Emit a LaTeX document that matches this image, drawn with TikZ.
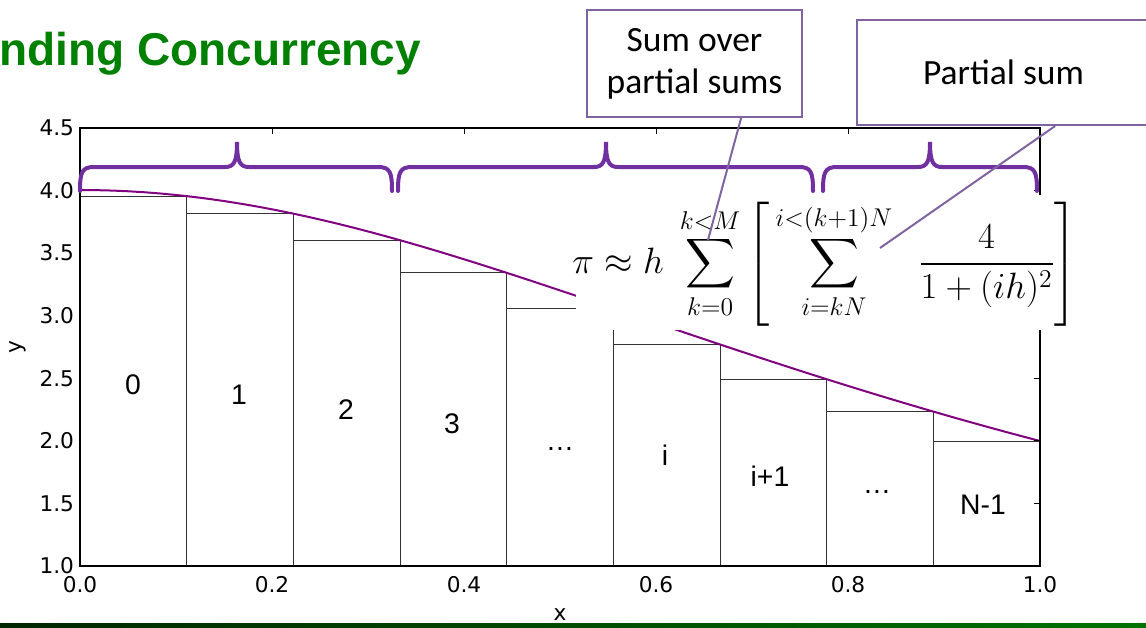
\RequirePackage{fix-cm}
\documentclass[tikz,border=0pt]{standalone}
\usepackage{amsmath}
\usepackage{exscale}
\usepackage{fontspec}
\setmainfont{Liberation Sans}
\newfontfamily\tickfont{DejaVu Sans}
\newfontfamily\notefont{Carlito}
\definecolor{bracepurple}{HTML}{7030A0}
\definecolor{curvepurple}{HTML}{800080}
\definecolor{notepurple}{HTML}{8064A2}
\definecolor{titlegreen}{HTML}{008000}
\tikzset{
	bar/.style={draw=black!80, line width=0.6pt, fill=white},
	barlabel/.style={font=\fontsize{17}{20}\selectfont},
	ticklabel/.style={font=\tickfont\fontsize{13}{15}\selectfont, inner sep=1pt},
	partbrace/.style={draw=bracepurple, line width=2.4pt, line cap=round},
	notebox/.style={draw=notepurple, line width=1.2pt, fill=white, align=center, font=\notefont\fontsize{21.3}{25.2}\selectfont},
	pointer/.style={draw=notepurple, line width=1.2pt},
}
% brace over a group of bars: left end, tip, right end (pixels)
\newcommand{\partbrace}[3]{
	\draw[partbrace] (#1,191) .. controls (#1,172) and (#1+2,167) .. (#1+14,167)
		-- (#2-12,167) .. controls (#2-3,167) and (#2,162) .. (#2,142)
		.. controls (#2,162) and (#2+3,167) .. (#2+12,167)
		-- (#3-14,167) .. controls (#3-2,167) and (#3,172) .. (#3,191);
}
\begin{document}
\begin{tikzpicture}[x=0.6pt, y=-0.6pt]
	\useasboundingbox (0,0) rectangle (1146,627);
	
	% 1. title
	\node[anchor=base west, inner sep=0, text=titlegreen, font=\bfseries\fontsize{27.6}{32}\selectfont] (title) at (-1,65) {nding Concurrency};
	
	% 2. bars (right end points)
	\foreach \i in {0,...,8} {
		\pgfmathsetmacro\xl{80+960*\i/9}
		\pgfmathsetmacro\xr{80+960*(\i+1)/9}
		\pgfmathsetmacro\yt{692-502/(1+((\i+1)/9)^2)}
		\draw[bar] (\xl,566) rectangle (\xr,\yt);
	}
	
	% 3. the curve 4/(1+x^2)
	\draw[curvepurple, line width=1.2pt] plot[domain=0:1, samples=60] ({80+960*\x}, {692-502/(1+\x*\x)});
	
	% 4. axes, ticks and tick labels
	\draw[line width=1pt] (80,128) rectangle (1040,566);
	\foreach \xx in {272,464,656,848}
		\draw[line width=0.6pt] (\xx,128) -- (\xx,134);
	\foreach \v [count=\k] in {1.0,1.5,2.0,2.5,3.0,3.5,4.0,4.5} {
		\pgfmathsetmacro\yy{566-(\v-1)*125.2}
		\draw[line width=0.6pt] (1040,\yy) -- (1034,\yy);
		\node[ticklabel, anchor=east] (ytick\k) at (76,\yy) {\v};
	}
	\foreach \u [count=\k] in {0.0,0.2,0.4,0.6,0.8,1.0} {
		\pgfmathsetmacro\xx{80+960*\u}
		\node[ticklabel] (xtick\k) at (\xx,585) {\u};
	}
	\node[ticklabel, rotate=90] (ylabel) at (18,347) {y};
	\node[ticklabel] (xlabel) at (560,615) {x};
	
	% 5. bar labels
	\foreach \lab/\xx/\yy [count=\k] in {0/133/385, 1/239/395, 2/346/410, 3/452/424, …/560/449, i/665/455, i+1/770/476, …/877/492, N-1/983/505}
		\node[barlabel] (lab\k) at (\xx,\yy) {\lab};
	
	% 6. braces over the partial sums
	\partbrace{80}{237}{392}
	\partbrace{398}{606}{813}
	\partbrace{823}{930}{1037}
	
	% 7. formula on its white patch
	\fill[white] (576,195) rectangle (1076,330);
	\node[inner sep=0, font=\fontsize{22}{26}\selectfont] (formula) at (825,264)
		{$\displaystyle \pi \approx h \;\sum_{k=0}^{k<M} \left[\,\sum_{i=kN}^{i<(k+1)N} \;\; \frac{4}{1+(ih)^2}\right]$};
	
	% 8. callouts
	\node[notebox, minimum width=129pt, minimum height=64pt] (sumbox) at (694.5,63.5) {Sum over\\partial sums};
	\node[notebox, minimum width=176pt, minimum height=63pt] (partbox) at (1003.5,72.5) {Partial sum};
	\coordinate (outerlimit) at (708,240);
	\coordinate (innersum) at (880,248);
	\draw[pointer] ([xshift=28pt]sumbox.south) -- (outerlimit);
	\draw[pointer] ([xshift=31pt]partbox.south) -- (innersum);
	
	% 9. green strip at the bottom
	\fill[left color=black!85!green, right color=green!45!black] (0,623) rectangle (1146,627);
\end{tikzpicture}
\end{document}
